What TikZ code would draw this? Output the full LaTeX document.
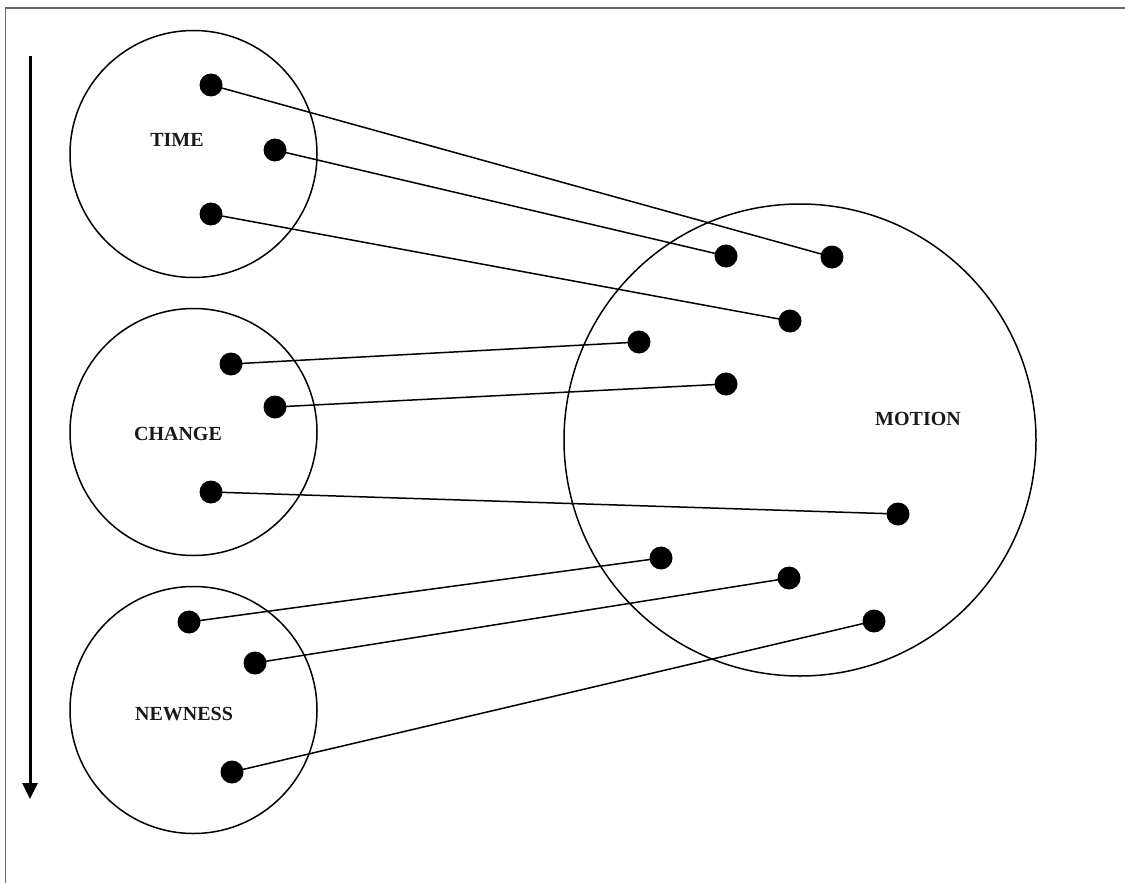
\documentclass[tikz,border=0pt]{standalone}
\usepackage{fontspec}
\setmainfont{Liberation Serif}
\usetikzlibrary{arrows.meta}
\begin{document}
\begin{tikzpicture}[x=1pt,y=-1pt,
  set/.style={draw,circle,inner sep=0pt,line width=1.5pt},
  dot/.style={fill=black,circle,inner sep=0pt,minimum size=23pt},
  link/.style={line width=1.5pt},
  lbl/.style={font=\fontsize{20}{24}\selectfont\bfseries,text=black!90}]
  \useasboundingbox (0,0) rectangle (1125,883);
  % frame
  \draw[black!60,line width=1.5pt] (5.5,883) -- (5.5,8) -- (1125,8);

  % sets
  \node[set,minimum size=247pt] (time) at (193.5,154) {};
  \node[set,minimum size=247pt] (change) at (193.5,432) {};
  \node[set,minimum size=247pt] (newness) at (193.5,710) {};
  \node[set,minimum size=472pt] (motion) at (800,440) {};

  % labels
  \node[lbl] (ltime) at (177,140) {TIME};
  \node[lbl] (lchange) at (178,434) {CHANGE};
  \node[lbl] (lnewness) at (184,714) {NEWNESS};
  \node[lbl] (lmotion) at (918,419) {MOTION};

  % points in the small sets
  \node[dot] (t1) at (211,85) {};
  \node[dot] (t2) at (275,150) {};
  \node[dot] (t3) at (211,214) {};
  \node[dot] (c1) at (231,364) {};
  \node[dot] (c2) at (275,407) {};
  \node[dot] (c3) at (211,492) {};
  \node[dot] (n1) at (189,622) {};
  \node[dot] (n2) at (255,663) {};
  \node[dot] (n3) at (232,772) {};

  % points in MOTION
  \node[dot] (m1) at (832,257) {};
  \node[dot] (m2) at (726,256) {};
  \node[dot] (m3) at (790,321) {};
  \node[dot] (m4) at (639,342) {};
  \node[dot] (m5) at (726,384) {};
  \node[dot] (m6) at (898,514) {};
  \node[dot] (m7) at (661,558) {};
  \node[dot] (m8) at (789,578) {};
  \node[dot] (m9) at (874,621) {};

  % mappings
  \draw[link] (t1.center) -- (m1.center);
  \draw[link] (t2.center) -- (m2.center);
  \draw[link] (t3.center) -- (m3.center);
  \draw[link] (c1.center) -- (m4.center);
  \draw[link] (c2.center) -- (m5.center);
  \draw[link] (c3.center) -- (m6.center);
  \draw[link] (n1.center) -- (m7.center);
  \draw[link] (n2.center) -- (m8.center);
  \draw[link] (n3.center) -- (m9.center);

  % time arrow
  \coordinate (atop) at (30,56);
  \coordinate (abot) at (30,799);
  \draw[line width=3pt,-{Triangle[length=16pt,width=15pt]}] (atop) -- (abot);
\end{tikzpicture}
\end{document}
